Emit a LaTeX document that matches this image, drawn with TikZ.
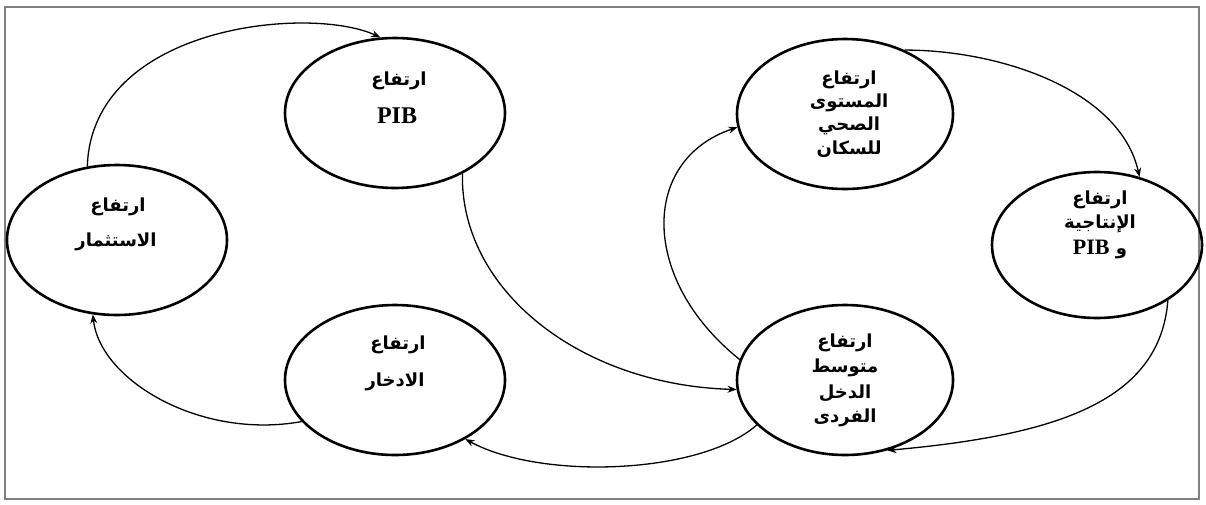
\documentclass[tikz,border=0pt]{standalone}
\usepackage{fontspec}
\TeXXeTstate=1
\newfontfamily\arabicfont[Script=Arabic]{DejaVu Sans}
\newfontfamily\pibfont{Liberation Serif}
\usetikzlibrary{shapes.geometric,arrows.meta}
\newcommand{\artext}[1]{{\arabicfont\bfseries\beginR #1\endR}}
\begin{document}
\begin{tikzpicture}[x=1pt,y=-1pt,
  circ/.style={ellipse, draw, line width=2.6pt, minimum width=220pt, minimum height=150pt, inner sep=0pt},
  conn/.style={line width=1.3pt, -{Stealth[length=9pt,width=7pt]}},
  lbl/.style={font=\fontsize{18}{21}\selectfont, inner sep=0pt},
  pib/.style={font=\pibfont\bfseries\fontsize{24}{26}\selectfont, inner sep=0pt}]
\useasboundingbox (0,0) rectangle (1206,504);
\fill[white] (0,0) rectangle (1206,504);
\draw[draw=gray, line width=2.2pt] (5,7) rectangle (1199,499);

\node[circ] (inv) at (117,240) {};
\node[circ] (pib) at (395,113) {};
\node[circ] (sav) at (395,380) {};
\node[circ, minimum width=216pt] (hea) at (845,114) {};
\node[circ, minimum width=216pt] (inc) at (845,380) {};
\node[circ, minimum width=210pt, minimum height=146pt] (pro) at (1097,245) {};

\node[lbl] (inv1) at (118,207) {\artext{ارتفاع}};
\node[lbl] (inv2) at (116,242) {\artext{الاستثمار}};
\node[lbl] (pib1) at (399,81) {\artext{ارتفاع}};
\node[pib] (pib2) at (397,116) {PIB};
\node[lbl] (sav1) at (398,345) {\artext{ارتفاع}};
\node[lbl] (sav2) at (395,382) {\artext{الادخار}};
\node[lbl] (hea1) at (849,80) {\artext{ارتفاع}};
\node[lbl] (hea2) at (849,103) {\artext{المستوى}};
\node[lbl] (hea3) at (849,126) {\artext{الصحي}};
\node[lbl] (hea4) at (849,149) {\artext{للسكان}};
\node[lbl] (inc1) at (845,343) {\artext{ارتفاع}};
\node[lbl] (inc2) at (845,368) {\artext{متوسط}};
\node[lbl] (inc3) at (845,393) {\artext{الدخل}};
\node[lbl] (inc4) at (845,418) {\artext{الفردى}};
\node[lbl] (pro1) at (1100,200) {\artext{ارتفاع}};
\node[lbl] (pro2) at (1100,224) {\artext{الإنتاجية}};
\node[lbl] (pro3) at (1100,249) {{\arabicfont\bfseries\beginR و \beginL{\pibfont\fontsize{22}{24}\selectfont PIB}\endL\endR}};

\draw[conn] (inv.112) .. controls (92,25) and (310,5) .. (pib.101);
\draw[conn] (pib.318) .. controls (460,290) and (580,385) .. (inc.185);
\draw[conn] (sav.204) .. controls (200,440) and (100,380) .. (inv.252);
\draw[conn] (inc.207) .. controls (700,475) and (540,480) .. (sav.320);
\draw[conn] (inc.169) .. controls (640,280) and (640,160) .. (hea.187);
\draw[conn] (hea.47) .. controls (1000,50) and (1120,90) .. (pro.58);
\draw[conn] (pro.322) .. controls (1160,400) and (1060,435) .. (inc.301);
\end{tikzpicture}
\end{document}
